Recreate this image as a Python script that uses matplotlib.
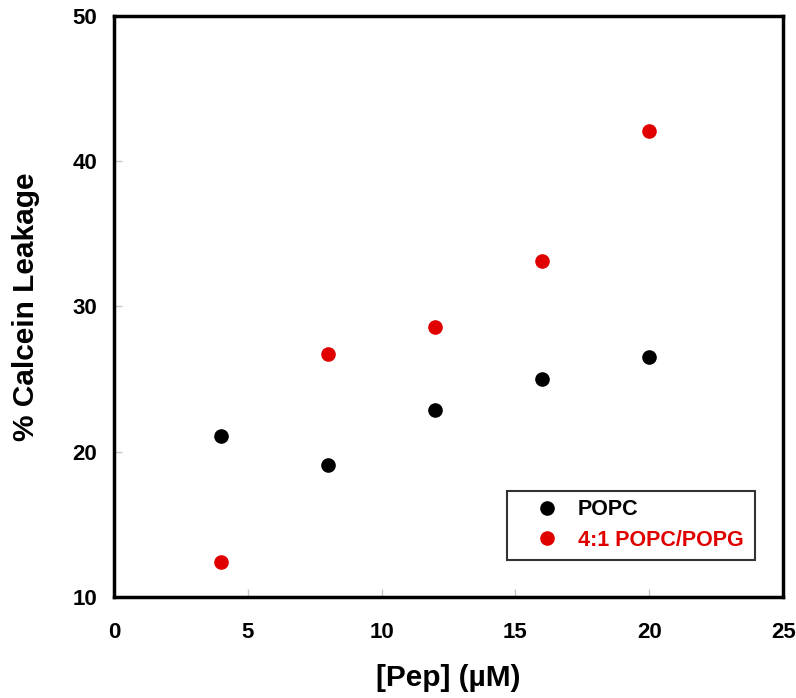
import numpy as np
import matplotlib
matplotlib.use('Agg')
import matplotlib.pyplot as plt

plt.rcParams['font.family'] = ['Liberation Sans', 'DejaVu Sans']
plt.rcParams['font.weight'] = 'bold'

pep = [4, 8, 12, 16, 20]
popc = [21.1, 19.1, 22.9, 25.0, 26.5]
popc_popg = [12.4, 26.7, 28.6, 33.1, 42.1]

fig = plt.figure(figsize=(7.96, 6.98), dpi=100)
ax = fig.add_axes([0.143, 0.145, 0.841, 0.832])

ax.plot(pep, popc, 'o', color='black', markersize=9.5, label='POPC')
ax.plot(pep, popc_popg, 'o', color='#e00000', markersize=9.5, label='4:1 POPC/POPG')

ax.set_xlim(0, 25)
ax.set_ylim(10, 50)
ax.set_xticks([0, 5, 10, 15, 20, 25])
ax.set_yticks([10, 20, 30, 40, 50])
ax.tick_params(direction='in', length=6, width=1, color='#c8c8c8', labelsize=16)
ax.tick_params(axis='x', pad=18)
ax.tick_params(axis='y', pad=12)
for s in ax.spines.values():
    s.set_linewidth(2.5)

ax.set_xlabel('[Pep] (\u00b5M)', fontsize=21.5, fontweight='bold', labelpad=15)
ax.set_ylabel('% Calcein Leakage', fontsize=21.5, fontweight='bold', labelpad=23)

leg = ax.legend(loc='lower left', bbox_to_anchor=(0.587, 0.064, 0.371, 0.12),
                mode='expand', fontsize=15.5, labelcolor='markerfacecolor',
                fancybox=False, borderaxespad=0, handletextpad=0.0,
                borderpad=0.4, labelspacing=0.45, handlelength=2.9)
leg.get_frame().set_edgecolor('black')
leg.get_frame().set_linewidth(1.5)

plt.savefig('out.png', dpi=100)
plt.close()
